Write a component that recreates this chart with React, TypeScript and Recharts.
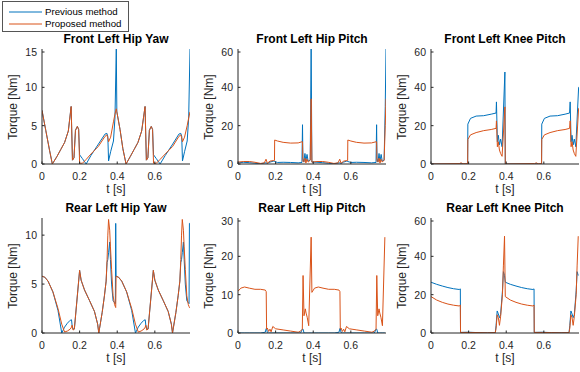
import { LineChart, Line, XAxis, YAxis } from 'recharts'

const BLUE = '#0072BD'
const ORANGE = '#D95319'
const AXIS = '#262626'
const FONT = '"Liberation Sans", Arial, Helvetica, sans-serif'

// shared time axis settings
const X_MAX = 0.787
const X_TICKS = [0, 0.2, 0.4, 0.6]

// Front Left Hip Yaw
const flHipYawT = [0, 0.02, 0.04, 0.055, 0.08, 0.1, 0.12, 0.14, 0.155, 0.162, 0.17, 0.178, 0.188, 0.195, 0.2, 0.215, 0.235, 0.26, 0.3, 0.335, 0.345, 0.35, 0.354, 0.365, 0.38, 0.388, 0.395, 0.398, 0.415, 0.43, 0.447, 0.47, 0.49, 0.51, 0.53, 0.548, 0.555, 0.563, 0.571, 0.581, 0.588, 0.593, 0.608, 0.628, 0.655, 0.695, 0.728, 0.738, 0.743, 0.747, 0.758, 0.772, 0.78, 0.787]
const flHipYawPrev = [7.0, 4.4, 1.8, 0.0, 1.0, 1.9, 2.8, 4.3, 7.5, 0.5, 0.8, 4.4, 4.9, 4.5, 1.2, 0.7, 0.0, 1.1, 2.6, 3.9, 4.0, 3.6, 0.4, 1.6, 3.0, 6.0, 15.0, 6.8, 4.5, 2.0, 0.0, 1.0, 1.9, 2.8, 4.3, 7.5, 0.5, 0.8, 4.4, 4.9, 4.5, 1.2, 0.7, 0.0, 1.1, 2.6, 3.9, 4.0, 3.6, 0.4, 1.6, 3.0, 6.0, 15.0]
const flHipYawProp = [7.0, 4.4, 1.8, 0.0, 1.0, 1.9, 2.8, 4.3, 7.5, 0.5, 0.8, 4.4, 4.9, 4.5, 0.1, 0.1, 0.6, 1.3, 2.3, 3.6, 3.8, 3.4, 2.9, 3.5, 5.5, 6.5, 7.2, 6.8, 4.5, 2.0, 0.0, 1.0, 1.9, 2.8, 4.3, 7.5, 0.5, 0.8, 4.4, 4.9, 4.5, 0.1, 0.1, 0.6, 1.3, 2.3, 3.6, 3.8, 3.4, 2.9, 3.5, 5.0, 6.0, 6.8]

// Front Left Hip Pitch
const flHipPitchT = [0, 0.03, 0.06, 0.09, 0.12, 0.14, 0.149, 0.156, 0.17, 0.188, 0.194, 0.195, 0.21, 0.24, 0.28, 0.32, 0.34, 0.343, 0.345, 0.35, 0.356, 0.361, 0.367, 0.373, 0.384, 0.389, 0.393, 0.42, 0.45, 0.48, 0.51, 0.532, 0.541, 0.548, 0.562, 0.578, 0.583, 0.584, 0.6, 0.63, 0.67, 0.71, 0.734, 0.737, 0.739, 0.744, 0.75, 0.755, 0.761, 0.767, 0.777, 0.783, 0.787]
const flHipPitchPrev = [0.6, 0.9, 0.7, 0.4, 0.1, 0.5, 0.6, 0.3, 1.0, 1.5, 1.3, 1.3, 0.8, 0.9, 0.8, 0.6, 0.8, 20.5, 3.0, 1.0, 5.5, 1.5, 5.0, 1.5, 2.0, 60, 1.0, 0.9, 0.7, 0.4, 0.1, 0.5, 0.6, 0.3, 1.0, 1.5, 1.3, 1.3, 0.8, 0.9, 0.8, 0.6, 0.8, 20.5, 3.0, 1.0, 5.5, 1.5, 5.0, 1.5, 2.0, 30, 60]
const flHipPitchProp = [1.0, 1.3, 1.3, 0.9, 0.3, 0.6, 2.5, 0.4, 1.5, 1.8, 1.8, 12.5, 12.0, 11.3, 10.9, 11.0, 11.6, 11.6, 1.5, 1.0, 3.0, 0.5, 2.5, 1.0, 2.0, 34, 1.0, 1.3, 1.3, 0.9, 0.3, 0.6, 2.5, 0.4, 1.5, 1.8, 1.8, 12.5, 12.0, 11.3, 10.9, 11.0, 11.6, 11.6, 1.5, 1.0, 3.0, 0.5, 2.5, 1.0, 2.0, 20, 34]

// Front Left Knee Pitch
const flKneePitchT = [0, 0.15, 0.16, 0.17, 0.195, 0.196, 0.21, 0.24, 0.28, 0.32, 0.346, 0.348, 0.353, 0.358, 0.364, 0.37, 0.378, 0.393, 0.395, 0.55, 0.56, 0.57, 0.588, 0.589, 0.603, 0.633, 0.673, 0.713, 0.737, 0.74, 0.745, 0.75, 0.756, 0.762, 0.77, 0.785, 0.787]
const flKneePitchPrev = [0, 0, 0.3, 0, 0, 20.8, 23.8, 25.0, 25.2, 26.0, 26.6, 32.4, 11.6, 15.0, 10.0, 13.0, 9.0, 48, 0, 0, 0.3, 0, 0, 20.8, 23.8, 25.0, 25.2, 26.0, 26.6, 32.4, 11.6, 15.0, 10.0, 13.0, 9.0, 40, 40]
const flKneePitchProp = [0, 0.2, 0.6, 0.1, 0.2, 12.8, 15.2, 16.4, 17.4, 18.0, 18.6, 22.5, 9.0, 11.6, 7.3, 5.5, 4.0, 29.8, 0, 0.2, 0.6, 0.1, 0.2, 12.8, 15.2, 16.4, 17.4, 18.0, 18.6, 22.5, 9.0, 11.6, 7.3, 5.5, 4.0, 29, 29]

// Rear Left Hip Yaw
const rlHipYawT = [0, 0.015, 0.032, 0.058, 0.085, 0.105, 0.12, 0.135, 0.15, 0.157, 0.16, 0.165, 0.172, 0.2, 0.208, 0.226, 0.253, 0.279, 0.296, 0.302, 0.32, 0.332, 0.341, 0.346, 0.35, 0.354, 0.36, 0.364, 0.37, 0.378, 0.386, 0.39, 0.392, 0.394, 0.407, 0.424, 0.45, 0.477, 0.497, 0.512, 0.527, 0.542, 0.549, 0.552, 0.557, 0.564, 0.592, 0.6, 0.618, 0.645, 0.671, 0.688, 0.694, 0.712, 0.724, 0.733, 0.738, 0.742, 0.746, 0.752, 0.756, 0.762, 0.77, 0.778, 0.782, 0.784, 0.787]
const rlHipYawPrev = [5.8, 5.7, 5.3, 4.2, 2.3, 0.0, 0.6, 1.0, 1.3, 1.35, 0.8, 0.4, 0.4, 6.4, 5.4, 4.4, 3.3, 2.2, 0.9, 0.0, 2.1, 3.8, 5.3, 7.2, 7.5, 8.2, 9.3, 7.5, 5.0, 3.3, 3.1, 3.0, 11.2, 5.8, 5.7, 5.3, 4.2, 2.3, 0.0, 0.6, 1.0, 1.3, 1.35, 0.8, 0.4, 0.4, 6.4, 5.4, 4.4, 3.3, 2.2, 0.9, 0.0, 2.1, 3.8, 5.3, 7.2, 7.5, 8.2, 9.3, 7.5, 5.0, 3.3, 3.1, 3.0, 11.2, 11.2]
const rlHipYawProp = [5.8, 5.7, 5.3, 4.2, 2.5, 0.9, 0.1, 0.2, 0.4, 0.6, 0.8, 0.3, 0.4, 6.4, 5.4, 4.4, 3.3, 2.2, 0.9, 0.0, 2.1, 3.8, 5.3, 7.5, 10.0, 11.6, 10.5, 8.8, 6.5, 3.8, 2.9, 2.7, 2.6, 5.8, 5.7, 5.3, 4.2, 2.5, 0.9, 0.1, 0.2, 0.4, 0.6, 0.8, 0.3, 0.4, 6.4, 5.4, 4.4, 3.3, 2.2, 0.9, 0.0, 2.1, 3.8, 5.3, 7.5, 10.0, 11.6, 10.5, 8.8, 6.5, 3.8, 2.9, 2.7, 2.6, 2.6]

// Rear Left Hip Pitch
const rlHipPitchT = [0, 0.015, 0.035, 0.06, 0.09, 0.12, 0.145, 0.15, 0.152, 0.156, 0.163, 0.17, 0.176, 0.185, 0.2, 0.24, 0.28, 0.32, 0.333, 0.342, 0.346, 0.351, 0.358, 0.362, 0.368, 0.376, 0.389, 0.393, 0.407, 0.427, 0.452, 0.482, 0.512, 0.537, 0.542, 0.544, 0.548, 0.555, 0.562, 0.568, 0.577, 0.592, 0.632, 0.672, 0.712, 0.725, 0.734, 0.738, 0.743, 0.75, 0.754, 0.76, 0.768, 0.781]
const rlHipPitchPrev = [0, 0, 0, 0, 0, 0, 0.2, 1.2, 1.2, 0.1, 0, 0, 0, 0, 0, 0, 0, 0, 0, 1.0, 1.0, 0, 0, 0, 0, 0, 0, 0, 0, 0, 0, 0, 0, 0.2, 1.2, 1.2, 0.1, 0, 0, 0, 0, 0, 0, 0, 0, 0, 1.0, 1.0, 0, 0, 0, 0, 0, 0]
const rlHipPitchProp = [10.9, 11.7, 12.0, 11.7, 11.4, 11.4, 11.2, 10.8, 1.0, 1.3, 0.4, 1.0, 0.3, 1.7, 1.1, 0.8, 0.5, 0.2, 0.5, 1.0, 15, 4.5, 6.3, 5.2, 4.1, 1.9, 25, 10.6, 11.7, 12.0, 11.7, 11.4, 11.4, 11.2, 10.8, 1.0, 1.3, 0.4, 1.0, 0.3, 1.7, 1.1, 0.8, 0.5, 0.2, 0.5, 1.0, 15, 4.5, 6.3, 5.2, 4.1, 1.9, 25]

// Rear Left Knee Pitch
const rlKneePitchT = [0, 0.03, 0.06, 0.09, 0.12, 0.15, 0.156, 0.157, 0.2, 0.25, 0.3, 0.342, 0.346, 0.352, 0.358, 0.364, 0.37, 0.38, 0.385, 0.391, 0.395, 0.422, 0.452, 0.482, 0.512, 0.542, 0.548, 0.549, 0.592, 0.642, 0.692, 0.734, 0.738, 0.744, 0.75, 0.756, 0.762, 0.772, 0.777, 0.783]
const rlKneePitchPrev = [26.5, 25.4, 24.5, 23.7, 23.1, 22.7, 23.0, 0.3, 0.4, 0.2, 0.1, 0.2, 3.8, 11.5, 10.0, 8.0, 9.5, 22, 32, 30, 26.5, 25.4, 24.5, 23.7, 23.1, 22.7, 23.0, 0.3, 0.4, 0.2, 0.1, 0.2, 3.8, 11.5, 10.0, 8.0, 9.5, 22, 32, 30]
const rlKneePitchProp = [19.0, 17.2, 16.0, 15.1, 14.5, 14.1, 14.6, 0.3, 0.3, 0.2, 0.1, 0.2, 2.5, 9.5, 8.0, 4.0, 8.5, 20, 35, 50.5, 19.0, 17.2, 16.0, 15.1, 14.5, 14.1, 14.6, 0.3, 0.3, 0.2, 0.1, 0.2, 2.5, 9.5, 8.0, 4.0, 8.5, 20, 35, 50.5]

const PLOT_W = 148
const PLOT_H = 115
const PAD_L = 40
const PAD_T = 6
const PAD_R = 4
const PAD_B = 30

interface PanelProps {
  title: string
  t: number[]
  prev: number[]
  prop: number[]
  yMax: number
  yTicks: number[]
  left: number
  top: number
}

function Panel({ title, t, prev, prop, yMax, yTicks, left, top }: PanelProps) {
  const data = t.map((x, i) => ({ t: x, prev: prev[i], prop: prop[i] }))
  const bottom = PAD_T + PLOT_H

  const xTick = (p: any) => (
    <g>
      <line x1={p.x} x2={p.x} y1={bottom} y2={bottom - 2.5} stroke={AXIS} />
      <text x={p.x} y={bottom + 12} textAnchor="middle" dominantBaseline="central" fontSize={10.5} fill={AXIS} fontFamily={FONT}>
        {p.payload.value}
      </text>
    </g>
  )
  const yTick = (p: any) => (
    <g>
      <line x1={PAD_L} x2={PAD_L + 2.5} y1={p.y} y2={p.y} stroke={AXIS} />
      <text x={PAD_L - 5} y={p.y} textAnchor="end" dominantBaseline="central" fontSize={10.5} fill={AXIS} fontFamily={FONT}>
        {p.payload.value}
      </text>
    </g>
  )

  return (
    <>
      <div
        style={{
          position: 'absolute', left: left + PLOT_W / 2, top: top - 10,
          transform: 'translate(-50%, -50%)', fontWeight: 'bold', fontSize: 12, whiteSpace: 'nowrap',
        }}
      >
        {title}
      </div>
      <div
        style={{
          position: 'absolute', left: left - 29, top: top + PLOT_H / 2,
          transform: 'translate(-50%, -50%) rotate(-90deg)', fontSize: 12, color: AXIS, whiteSpace: 'nowrap',
        }}
      >
        Torque [Nm]
      </div>
      <div
        style={{
          position: 'absolute', left: left + PLOT_W / 2, top: top + PLOT_H + 25,
          transform: 'translate(-50%, -50%)', fontSize: 12, color: AXIS, whiteSpace: 'nowrap',
        }}
      >
        t [s]
      </div>
      <div style={{ position: 'absolute', left: left - PAD_L, top: top - PAD_T }}>
        <LineChart
          width={PLOT_W + PAD_L + PAD_R}
          height={PLOT_H + PAD_T + PAD_B}
          data={data}
          margin={{ top: PAD_T, right: PAD_R, left: 0, bottom: 0 }}
        >
          <XAxis
            dataKey="t" type="number" domain={[0, X_MAX]} ticks={X_TICKS} height={PAD_B}
            axisLine={{ stroke: AXIS }} tickLine={false} tick={xTick} allowDataOverflow
          />
          <YAxis
            type="number" domain={[0, yMax]} ticks={yTicks} width={PAD_L}
            axisLine={{ stroke: AXIS }} tickLine={false} tick={yTick} allowDataOverflow
          />
          <Line dataKey="prev" type="linear" stroke={BLUE} strokeWidth={1} dot={false} isAnimationActive={false} />
          <Line dataKey="prop" type="linear" stroke={ORANGE} strokeWidth={1} dot={false} isAnimationActive={false} />
        </LineChart>
      </div>
    </>
  )
}

export default function App() {
  return (
    <div
      style={{
        position: 'absolute', left: 0, top: 0, width: 580, height: 372,
        background: '#fff', fontFamily: FONT, overflow: 'hidden',
      }}
    >
      <Panel title="Front Left Hip Yaw" t={flHipYawT} prev={flHipYawPrev} prop={flHipYawProp} yMax={15} yTicks={[0, 5, 10, 15]} left={42} top={49} />
      <Panel title="Front Left Hip Pitch" t={flHipPitchT} prev={flHipPitchPrev} prop={flHipPitchProp} yMax={60} yTicks={[0, 20, 40, 60]} left={238} top={49} />
      <Panel title="Front Left Knee Pitch" t={flKneePitchT} prev={flKneePitchPrev} prop={flKneePitchProp} yMax={60} yTicks={[0, 20, 40, 60]} left={431} top={49} />
      <Panel title="Rear Left Hip Yaw" t={rlHipYawT} prev={rlHipYawPrev} prop={rlHipYawProp} yMax={11.75} yTicks={[0, 5, 10]} left={42} top={218} />
      <Panel title="Rear Left Hip Pitch" t={rlHipPitchT} prev={rlHipPitchPrev} prop={rlHipPitchProp} yMax={30} yTicks={[0, 10, 20, 30]} left={238} top={218} />
      <Panel title="Rear Left Knee Pitch" t={rlKneePitchT} prev={rlKneePitchPrev} prop={rlKneePitchProp} yMax={60} yTicks={[0, 20, 40, 60]} left={431} top={218} />

      <div
        style={{
          position: 'absolute', left: 2, top: 1, width: 125, height: 29,
          border: '1px solid #555', background: '#fff', fontSize: 9.7, color: '#000',
        }}
      >
        {[
          { label: 'Previous method', color: BLUE, y: 9.5 },
          { label: 'Proposed method', color: ORANGE, y: 21.5 },
        ].map((item) => (
          <div key={item.label} style={{ position: 'absolute', left: 0, top: item.y - 6, height: 12, width: 125 }}>
            <svg width={42} height={12} style={{ position: 'absolute', left: 0, top: 0 }}>
              <line x1={6} x2={39} y1={6} y2={6} stroke={item.color} strokeWidth={1} />
            </svg>
            <span style={{ position: 'absolute', left: 42, top: 0, lineHeight: '12px', whiteSpace: 'nowrap' }}>{item.label}</span>
          </div>
        ))}
      </div>
    </div>
  )
}
